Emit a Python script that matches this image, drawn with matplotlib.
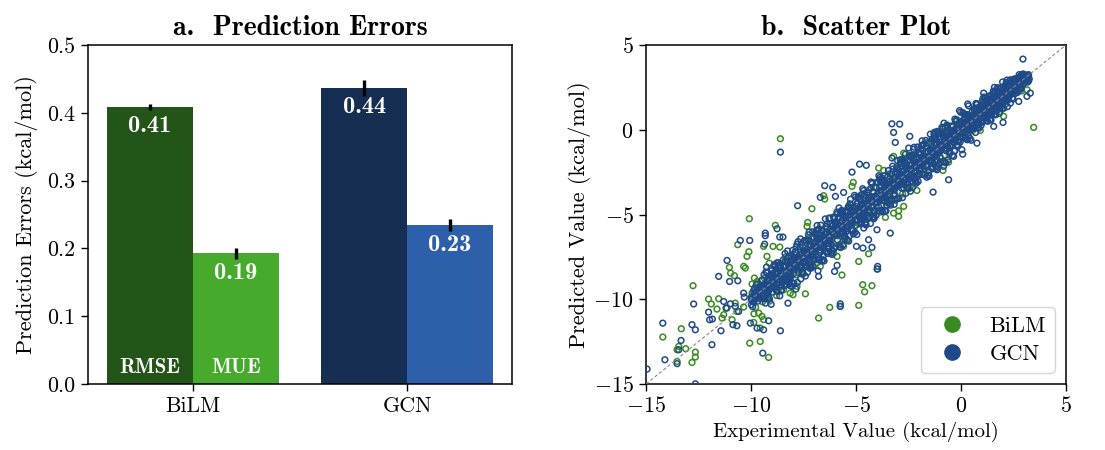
import matplotlib
matplotlib.use("Agg")
import matplotlib.pyplot as plt
from matplotlib.lines import Line2D
import numpy as np

plt.rcParams['mathtext.fontset'] = 'cm'
plt.rcParams['font.family'] = ['cmr10', 'DejaVu Sans']
plt.rcParams['axes.formatter.use_mathtext'] = True
plt.rcParams['axes.unicode_minus'] = True

# ---------------- data: panel a ----------------
models = ["BiLM", "GCN"]
rmse = [0.409, 0.437]
rmse_err = [0.0045, 0.0115]
mue = [0.193, 0.2345]
mue_err = [0.008, 0.0085]
rmse_colors = ["#235418", "#162e52"]
mue_colors = ["#46aa2d", "#2d5fab"]

# ---------------- data: panel b (experimental, predicted) ----------------
bilm_outliers = [
    (-8.6, -0.53), (3.46, 0.14), (-10.08, -5.25), (-8.84, -5.64), (-10.63, -6.78),
    (-10.1, -7.2), (-10.19, -7.47), (-10.35, -8.06), (-10.27, -8.16), (-11.03, -8.12),
    (-10.97, -8.46), (-10.79, -8.61), (-12.76, -9.2), (-12.02, -9.99), (-11.89, -10.28),
    (-11.62, -10.58), (-13.32, -11.74), (-14.2, -12.23), (-13.44, -12.78), (-13.52, -12.98),
    (-13.11, -12.92), (-12.65, -13.12), (-12.65, -13.41), (-12.81, -13.73), (-13.52, -13.67),
    (-10.06, -12.59), (-9.56, -12.49), (-9.87, -11.37), (-9.56, -11.7), (-9.4, -11.2),
    (-9.16, -13.43), (-9.63, -10.82), (-9.48, -11.01), (-7.41, -9.68), (-8.0, -9.73),
    (-8.13, -9.64), (-7.81, -9.24), (-6.25, -10.48), (-5.75, -10.42), (-4.87, -10.36),
    (-6.78, -11.11), (-4.68, -9.14), (-4.59, -9.56), (-4.24, -9.2), (-4.87, -7.77),
    (-4.4, -7.32), (-5.67, -8.57), (-4.0, -8.22), (-7.1, -4.66), (-7.3, -5.47),
    (-6.49, -4.09), (-6.54, -3.89), (-5.13, -3.11), (-2.1, -3.58), (-2.97, -5.11),
    (-3.6, -5.17), (-3.21, -4.92), (-2.97, -4.78), (-0.86, -2.4), (-0.59, -1.91),
    (1.03, 1.81), (2.03, 0.79), (3.14, 2.36), (2.9, 3.24), (3.14, 3.15),
    (0.92, -0.04), (-0.19, 0.59), (-1.38, -0.69), (-8.95, -6.88), (-8.63, -6.92),
    (-9.4, -6.88), (-9.24, -7.47), (-9.13, -7.87), (-9.84, -8.75), (-9.71, -8.95),
    (-9.4, -9.24), (-9.95, -9.64), (-9.84, -9.83), (-11.14, -10.52), (-11.3, -10.91),
    (-11.38, -11.11), (-10.9, -11.21), (-10.67, -10.72), (-10.75, -10.23), (-11.54, -9.97),
    (-10.35, -10.46), (-7.33, -5.7), (-6.86, -6.49), (-5.9, -7.47), (-6.06, -7.28),
    (-5.59, -6.88), (-6.22, -5.9), (-7.73, -7.47), (-7.49, -7.87), (-6.7, -8.06),
    (-6.86, -7.67), (-7.65, -8.26), (-5.19, -3.34), (-3.92, -2.26), (-3.68, -2.4),
    (-2.73, -3.24), (-2.41, -3.34), (-3.68, -4.13), (-3.49, -4.33), (-2.73, -4.52),
    (-4.4, -5.21), (-4.16, -4.92), (-3.21, -1.57), (-2.73, -1.38), (-0.67, 0.29),
    (0.29, 0.88), (1.24, 1.18), (1.56, 1.97), (1.87, 1.08),
]

bilm_core = [
    (-9.95, -9.10), (-9.78, -10.48), (-9.61, -9.31), (-9.86, -10.86), (-9.69, -9.09), (-9.54, -9.94),
    (-9.45, -10.15), (-9.28, -8.98), (-9.11, -10.11), (-9.36, -8.76), (-9.19, -9.59), (-9.04, -8.19),
    (-8.95, -8.65), (-8.78, -9.78), (-8.61, -8.01), (-8.86, -9.26), (-8.69, -7.84), (-8.54, -9.24),
    (-8.45, -9.45), (-8.28, -7.68), (-8.11, -8.51), (-8.36, -7.51), (-8.19, -8.89), (-8.04, -7.74),
    (-7.95, -7.35), (-7.78, -8.18), (-7.61, -6.76), (-7.86, -8.56), (-7.69, -7.39), (-7.54, -8.54),
    (-7.45, -7.85), (-7.28, -6.43), (-7.11, -7.81), (-7.36, -7.06), (-7.19, -8.19), (-7.04, -6.44),
    (-6.95, -6.10), (-6.78, -7.48), (-6.61, -6.31), (-6.86, -7.86), (-6.69, -6.09), (-6.54, -6.94),
    (-6.45, -7.15), (-6.28, -5.98), (-6.11, -7.11), (-6.36, -5.76), (-6.19, -6.59), (-6.04, -5.19),
    (-5.95, -5.65), (-5.78, -6.78), (-5.61, -5.01), (-5.86, -6.26), (-5.69, -4.84), (-5.54, -6.24),
    (-5.45, -6.45), (-5.28, -4.68), (-5.11, -5.51), (-5.36, -4.51), (-5.19, -5.89), (-5.04, -4.74),
    (-4.95, -4.35), (-4.78, -5.18), (-4.61, -3.76), (-4.86, -5.56), (-4.69, -4.39), (-4.54, -5.54),
    (-4.45, -4.85), (-4.28, -3.43), (-4.11, -4.81), (-4.36, -4.06), (-4.19, -5.19), (-4.04, -3.44),
    (-3.95, -3.10), (-3.78, -4.48), (-3.61, -3.31), (-3.86, -4.86), (-3.69, -3.09), (-3.54, -3.94),
    (-3.45, -4.15), (-3.28, -2.98), (-3.11, -4.11), (-3.36, -2.76), (-3.19, -3.59), (-3.04, -2.19),
    (-2.95, -2.65), (-2.78, -3.78), (-2.61, -2.01), (-2.86, -3.26), (-2.69, -1.84), (-2.54, -3.24),
    (-2.45, -3.45), (-2.28, -1.68), (-2.11, -2.51), (-2.36, -1.51), (-2.19, -2.89), (-2.04, -1.74),
    (-1.95, -1.35), (-1.78, -2.18), (-1.61, -0.76), (-1.86, -2.56), (-1.69, -1.39), (-1.54, -2.54),
    (-1.45, -1.85), (-1.28, -0.43), (-1.11, -1.81), (-1.36, -1.06), (-1.19, -2.19), (-1.04, -0.44),
    (-0.95, -0.10), (-0.78, -1.48), (-0.61, -0.31), (-0.86, -1.86), (-0.69, -0.09), (-0.54, -0.94),
    (-0.45, -0.87), (-0.28, -0.10), (-0.11, -0.71), (-0.36, 0.00), (-0.19, -0.43), (-0.04, 0.47),
    (0.05, 0.23), (0.22, -0.38), (0.39, 0.75), (0.14, -0.10), (0.31, 0.82), (0.46, 0.04),
    (0.55, -0.05), (0.72, 1.08), (0.89, 0.65), (0.64, 1.15), (0.81, 0.39), (0.96, 1.14),
    (1.05, 1.41), (1.22, 0.98), (1.39, 1.90), (1.14, 0.72), (1.31, 1.49), (1.46, 0.86),
    (1.55, 1.31), (1.72, 2.23), (1.89, 1.47), (1.64, 1.82), (1.81, 1.21), (1.96, 2.32),
    (2.05, 2.56), (2.22, 1.80), (2.39, 2.57), (2.14, 1.54), (2.31, 2.67), (2.46, 2.22),
    (2.55, 2.13), (2.72, 2.90), (2.89, 2.29), (2.64, 3.00), (2.81, 2.57), (2.96, 3.30),
    (3.05, 3.25), (3.15, 2.95), (3.20, 3.10),
]

gcn_outliers = [
    (-8.6, -1.32), (-3.29, 0.35), (-2.92, 0.33), (-3.21, -0.16), (-3.13, -0.75),
    (-2.44, -0.39), (2.95, 4.17), (1.59, 2.5), (1.08, 2.16), (3.14, 1.97),
    (2.0, 0.43), (0.08, -1.44), (-0.59, -2.95), (-1.33, -3.68), (-1.14, -0.1),
    (-0.3, -1.24), (-5.19, -2.5), (-4.83, -2.03), (-4.51, -2.1), (-6.49, -3.3),
    (-6.11, -3.4), (-6.7, -3.99), (-7.78, -4.48), (-5.59, -3.7), (-5.98, -3.93),
    (-8.76, -5.84), (-8.63, -6.33), (-8.48, -6.33), (-9.32, -6.1), (-9.32, -6.25),
    (-10.06, -6.53), (-10.51, -6.53), (-9.35, -6.75), (-11.14, -7.71), (-11.54, -8.65),
    (-11.02, -8.95), (-10.63, -8.91), (-10.35, -9.64), (-10.32, -9.87), (-12.73, -10.28),
    (-12.02, -10.76), (-11.97, -11.21), (-11.84, -11.17), (-11.43, -11.86), (-11.86, -12.68),
    (-14.2, -11.41), (-12.81, -11.5), (-12.65, -11.8), (-13.33, -12.43), (-13.44, -12.98),
    (-14.1, -13.57), (-13.52, -13.8), (-14.95, -14.12), (-12.65, -14.99), (-10.03, -11.41),
    (-9.71, -11.7), (-9.4, -11.8), (-9.16, -11.27), (-8.6, -11.86), (-9.44, -13.18),
    (-8.24, -10.23), (-5.75, -10.27), (-5.75, -10.42), (-3.97, -8.06), (-3.97, -8.22),
    (-4.4, -6.49), (-4.67, -6.98), (-4.24, -6.94), (-4.98, -6.88), (-5.9, -8.0),
    (-6.02, -8.36), (-6.81, -8.32), (-6.78, -8.65), (-7.33, -8.06), (-8.13, -8.85),
    (-8.05, -9.24), (-7.86, -9.4), (-10.75, -10.42), (-10.59, -10.72), (-10.86, -11.5),
    (-10.67, -11.56), (-11.3, -10.13), (-11.19, -10.52), (-10.98, -10.27), (-3.29, -1.67),
    (-2.89, -1.77), (-2.49, -1.08), (-1.14, -1.77), (-0.83, -2.16), (0.29, -0.59),
    (0.76, -0.79), (1.56, 0.2), (2.35, 1.57), (2.75, 1.67), (3.3, 2.16),
    (-4.0, -5.9), (-3.37, -6.1), (-7.81, -7.67),
]

gcn_fringe = [
    (-9.38, -8.55), (-9.13, -9.95), (-9.26, -8.10), (-9.04, -10.30),
    (-8.88, -7.95), (-8.63, -9.80), (-8.76, -7.85), (-8.54, -9.45),
    (-8.38, -7.30), (-8.13, -9.20), (-8.26, -7.15), (-8.04, -9.05),
    (-7.88, -7.20), (-7.63, -8.80), (-7.76, -6.60), (-7.54, -8.45),
    (-7.38, -6.55), (-7.13, -8.15), (-7.26, -6.20), (-7.04, -8.05),
    (-6.88, -5.95), (-6.63, -7.75), (-6.76, -5.85), (-6.54, -7.40),
    (-6.38, -5.55), (-6.13, -7.15), (-6.26, -5.20), (-6.04, -7.00),
    (-5.88, -4.95), (-5.63, -6.80), (-5.76, -4.85), (-5.54, -6.45),
    (-5.38, -4.60), (-5.13, -6.15), (-5.26, -4.10), (-5.04, -6.05),
    (-4.88, -3.95), (-4.63, -5.80), (-4.76, -3.85), (-4.54, -5.45),
    (-4.38, -3.55), (-4.13, -5.15), (-4.26, -3.10), (-4.04, -5.05),
    (-3.88, -2.95), (-3.63, -4.80), (-3.76, -2.85), (-3.54, -4.45),
    (-3.38, -2.60), (-3.13, -4.15), (-3.26, -2.15), (-3.04, -4.05),
    (-2.88, -1.95), (-2.63, -3.75), (-2.76, -1.85), (-2.54, -3.45),
    (-2.38, -1.55), (-2.13, -3.15), (-2.26, -1.15), (-2.04, -3.05),
    (-1.88, -0.95), (-1.63, -2.80), (-1.76, -0.85), (-1.54, -2.40),
    (-1.38, -0.55), (-1.13, -2.15), (-1.26, -0.15), (-1.04, -2.05),
    (-0.88, 0.05), (-0.63, -1.80), (-0.76, 0.15), (-0.54, -1.40),
    (-0.38, 0.19), (-0.13, -0.67), (-0.26, 0.49), (-0.04, -0.73),
    (0.12, 0.60), (0.37, -0.41), (0.24, 0.87), (0.46, 0.01),
    (0.62, 1.19), (0.87, 0.33), (0.74, 1.49), (0.96, 0.27),
    (1.12, 1.60), (1.37, 0.59), (1.24, 1.87), (1.46, 1.01),
    (1.62, 2.19), (1.87, 1.33), (1.74, 2.49), (1.96, 1.27),
]

gcn_band_outer = [
    (-9.46, -8.87), (-9.35, -9.97), (-9.23, -8.44), (-9.14, -9.97), (-9.02, -8.33),
    (-9.41, -9.94), (-9.29, -8.39), (-9.18, -9.89), (-9.07, -8.56), (-9.31, -10.23),
    (-8.96, -9.58), (-8.85, -8.06), (-8.73, -9.56), (-8.64, -7.95), (-8.52, -9.05),
    (-8.91, -8.01), (-8.79, -9.50), (-8.68, -8.17), (-8.57, -9.49), (-8.81, -8.22),
    (-8.46, -7.67), (-8.35, -9.18), (-8.23, -7.54), (-8.14, -8.67), (-8.02, -7.12),
    (-8.41, -9.12), (-8.29, -7.78), (-8.18, -9.10), (-8.07, -7.48), (-8.31, -8.93),
    (-7.96, -9.06), (-7.85, -6.93), (-7.73, -8.43), (-7.64, -6.44), (-7.52, -8.47),
    (-7.91, -7.23), (-7.79, -9.01), (-7.68, -6.90), (-7.57, -8.39), (-7.81, -6.76),
    (-7.46, -6.54), (-7.35, -8.05), (-7.23, -6.03), (-7.14, -8.09), (-7.02, -6.34),
    (-7.41, -8.63), (-7.29, -6.51), (-7.18, -8.00), (-7.07, -6.02), (-7.31, -8.41),
    (-6.96, -7.66), (-6.85, -5.65), (-6.73, -7.68), (-6.64, -5.96), (-6.52, -7.74),
    (-6.91, -6.13), (-6.79, -7.61), (-6.68, -5.63), (-6.57, -7.67), (-6.81, -5.89),
    (-6.46, -5.26), (-6.35, -7.30), (-6.23, -5.55), (-6.14, -7.36), (-6.02, -5.24),
    (-6.41, -7.23), (-6.29, -5.24), (-6.18, -7.28), (-6.07, -5.15), (-6.31, -7.01),
    (-5.96, -6.91), (-5.85, -5.17), (-5.73, -6.95), (-5.64, -4.86), (-5.52, -6.34),
    (-5.91, -4.86), (-5.79, -6.89), (-5.68, -4.76), (-5.57, -6.27), (-5.81, -4.61),
    (-5.46, -4.78), (-5.35, -6.57), (-5.23, -4.45), (-5.14, -5.96), (-5.02, -3.97),
    (-5.41, -6.51), (-5.29, -4.37), (-5.18, -5.88), (-5.07, -3.87), (-5.31, -6.26),
    (-4.96, -6.18), (-4.85, -4.07), (-4.73, -5.55), (-4.64, -3.59), (-4.52, -5.62),
    (-4.91, -3.99), (-4.79, -5.49), (-4.68, -3.48), (-4.57, -5.52), (-4.81, -4.13),
    (-4.46, -3.68), (-4.35, -5.17), (-4.23, -3.18), (-4.14, -5.24), (-4.02, -3.10),
    (-4.41, -5.11), (-4.29, -3.09), (-4.18, -5.13), (-4.07, -3.39), (-4.31, -5.53),
    (-3.96, -4.78), (-3.85, -2.80), (-3.73, -4.83), (-3.64, -2.72), (-3.52, -4.22),
    (-3.91, -2.71), (-3.79, -4.74), (-3.68, -3.00), (-3.57, -4.79), (-3.81, -3.03),
    (-3.46, -2.41), (-3.35, -4.45), (-3.23, -2.31), (-3.14, -3.84), (-3.02, -1.82),
    (-3.41, -4.36), (-3.29, -2.61), (-3.18, -4.40), (-3.07, -2.29), (-3.31, -4.13),
    (-2.96, -4.06), (-2.85, -1.93), (-2.73, -3.43), (-2.64, -1.44), (-2.52, -3.47),
    (-2.91, -2.23), (-2.79, -4.01), (-2.68, -1.90), (-2.57, -3.39), (-2.81, -1.76),
    (-2.46, -1.54), (-2.35, -3.05), (-2.23, -1.03), (-2.14, -3.09), (-2.02, -1.34),
    (-2.41, -3.63), (-2.29, -1.51), (-2.18, -3.00), (-2.07, -1.02), (-2.31, -3.41),
    (-1.96, -2.66), (-1.85, -0.65), (-1.73, -2.68), (-1.64, -0.96), (-1.52, -2.74),
    (-1.91, -1.13), (-1.79, -2.61), (-1.68, -0.63), (-1.57, -2.67), (-1.81, -0.89),
    (-1.46, -0.26), (-1.35, -2.30), (-1.23, -0.55), (-1.14, -2.36), (-1.02, -0.24),
    (-1.41, -2.23), (-1.29, -0.24), (-1.18, -2.28), (-1.07, -0.15), (-1.31, -2.01),
    (-0.96, -1.91), (-0.85, -0.17), (-0.73, -1.95), (-0.64, 0.14), (-0.52, -1.34),
    (-0.91, 0.14), (-0.79, -1.89), (-0.68, 0.24), (-0.57, -1.27), (-0.81, 0.39),
    (-0.46, 0.22), (-0.35, -1.57), (-0.23, 0.55), (-0.14, -0.96), (-0.02, 1.03),
    (-0.41, -1.51), (-0.29, 0.63), (-0.18, -0.88), (-0.07, 1.13), (-0.31, -1.26),
    (0.04, -1.18), (0.15, 0.93), (0.27, -0.55), (0.36, 1.41), (0.48, -0.62),
    (0.09, 1.01), (0.21, -0.49), (0.32, 1.52), (0.43, -0.52), (0.19, 0.87),
    (0.54, 1.09), (0.65, 0.08), (0.77, 1.51), (0.86, 0.09), (0.98, 1.62),
    (0.59, 0.10), (0.71, 1.55), (0.82, 0.15), (0.93, 1.41), (0.69, -0.16),
    (1.04, 0.47), (1.15, 1.89), (1.27, 0.50), (1.36, 2.00), (1.48, 0.99),
    (1.09, 1.93), (1.21, 0.54), (1.32, 1.80), (1.43, 0.58), (1.19, 1.74),
    (1.54, 2.28), (1.65, 0.88), (1.77, 2.41), (1.86, 1.37), (1.98, 2.82),
    (1.59, 0.92), (1.71, 2.19), (1.82, 0.97), (1.93, 2.48), (1.69, 1.12),
    (2.04, 1.27), (2.15, 2.79), (2.27, 1.78), (2.36, 2.95), (2.48, 1.81),
    (2.09, 2.57), (2.21, 1.36), (2.32, 2.87), (2.43, 1.86), (2.19, 2.93),
    (2.54, 3.00), (2.65, 2.35), (2.77, 3.25), (2.86, 2.40), (2.98, 3.20),
    (2.59, 2.15), (2.71, 3.05), (2.82, 2.40), (2.93, 3.25), (2.69, 2.20),
]

gcn_core = [
    (-9.97, -9.85), (-9.59, -9.94), (-9.83, -9.35), (-9.71, -9.79), (-9.92, -10.44), (-9.64, -9.37),
    (-9.78, -9.99), (-9.53, -9.48), (-9.88, -9.50), (-9.67, -10.11), (-9.99, -10.01), (-9.75, -9.14),
    (-9.47, -9.82), (-9.09, -8.61), (-9.33, -9.41), (-9.21, -9.73), (-9.42, -9.15), (-9.14, -9.35),
    (-9.28, -9.23), (-9.03, -8.65), (-9.38, -9.82), (-9.17, -9.19), (-9.49, -8.88), (-9.25, -9.13),
    (-8.97, -8.49), (-8.59, -8.67), (-8.83, -9.35), (-8.71, -8.44), (-8.92, -9.13), (-8.64, -8.59),
    (-8.78, -8.40), (-8.53, -8.97), (-8.88, -8.90), (-8.67, -8.06), (-8.99, -8.87), (-8.75, -9.10),
    (-8.47, -8.55), (-8.09, -8.61), (-8.33, -8.06), (-8.21, -8.42), (-8.42, -8.37), (-8.14, -7.76),
    (-8.28, -8.72), (-8.03, -8.05), (-8.38, -7.77), (-8.17, -8.05), (-8.49, -8.84), (-8.25, -7.77),
    (-7.97, -8.49), (-7.59, -7.32), (-7.83, -8.04), (-7.71, -7.66), (-7.92, -7.54), (-7.64, -8.08),
    (-7.78, -7.80), (-7.53, -6.92), (-7.88, -7.76), (-7.67, -8.02), (-7.99, -7.51), (-7.75, -7.83),
    (-7.47, -7.15), (-7.09, -7.34), (-7.33, -7.27), (-7.21, -6.75), (-7.42, -7.95), (-7.14, -7.16),
    (-7.28, -6.55), (-7.03, -6.89), (-7.38, -7.80), (-7.17, -6.59), (-7.49, -7.59), (-7.25, -7.87),
    (-6.97, -7.22), (-6.59, -6.53), (-6.83, -6.37), (-6.71, -7.24), (-6.92, -6.94), (-6.64, -5.91),
    (-6.78, -6.64), (-6.53, -6.95), (-6.88, -6.30), (-6.67, -6.77), (-6.99, -7.61), (-6.75, -6.43),
    (-6.47, -6.41), (-6.09, -5.63), (-6.33, -6.86), (-6.21, -6.23), (-6.42, -5.69), (-6.14, -6.00),
    (-6.28, -6.70), (-6.03, -5.45), (-6.38, -6.48), (-6.17, -6.79), (-6.49, -6.17), (-6.25, -6.50),
    (-5.97, -5.51), (-5.59, -6.12), (-5.83, -5.85), (-5.71, -4.98), (-5.92, -5.78), (-5.64, -6.06),
    (-5.78, -5.20), (-5.53, -5.63), (-5.88, -6.50), (-5.67, -5.35), (-5.99, -6.24), (-5.75, -5.69),
    (-5.47, -6.00), (-5.09, -5.11), (-5.33, -4.60), (-5.21, -5.07), (-5.42, -5.84), (-5.14, -4.56),
    (-5.28, -5.38), (-5.03, -5.65), (-5.38, -5.06), (-5.17, -5.42), (-5.49, -5.43), (-5.25, -4.79),
    (-4.97, -4.99), (-4.59, -3.86), (-4.83, -4.69), (-4.71, -5.13), (-4.92, -4.34), (-4.64, -4.74),
    (-4.78, -5.40), (-4.53, -4.21), (-4.88, -5.13), (-4.67, -4.61), (-4.99, -4.53), (-4.75, -5.28),
    (-4.47, -3.74), (-4.09, -3.95), (-4.33, -4.75), (-4.21, -3.63), (-4.42, -4.52), (-4.14, -4.76),
    (-4.28, -3.96), (-4.03, -4.28), (-4.38, -4.32), (-4.17, -3.71), (-4.49, -5.02), (-4.25, -4.27),
    (-3.97, -3.83), (-3.59, -4.01), (-3.83, -3.25), (-3.71, -3.81), (-3.92, -4.54), (-3.64, -3.32),
    (-3.78, -4.03), (-3.53, -3.47), (-3.88, -3.42), (-3.67, -4.20), (-3.99, -4.01), (-3.75, -3.02),
    (-3.47, -3.89), (-3.09, -2.51), (-3.33, -3.43), (-3.21, -3.83), (-3.42, -3.10), (-3.14, -3.39),
    (-3.28, -3.22), (-3.03, -2.57), (-3.38, -3.91), (-3.17, -3.19), (-3.49, -2.76), (-3.25, -3.11),
    (-2.97, -2.39), (-2.59, -2.69), (-2.83, -3.45), (-2.71, -2.39), (-2.92, -3.17), (-2.64, -2.58),
    (-2.78, -2.32), (-2.53, -3.06), (-2.88, -2.90), (-2.67, -1.94), (-2.99, -2.85), (-2.75, -3.17),
    (-2.47, -2.57), (-2.09, -2.71), (-2.33, -2.01), (-2.21, -2.46), (-2.42, -2.36), (-2.14, -1.68),
    (-2.28, -2.81), (-2.03, -2.05), (-2.38, -1.65), (-2.17, -2.03), (-2.49, -2.91), (-2.25, -1.67),
    (-1.97, -2.59), (-1.59, -1.27), (-1.83, -2.08), (-1.71, -1.65), (-1.92, -1.46), (-1.64, -2.17),
    (-1.78, -1.80), (-1.53, -0.80), (-1.88, -1.74), (-1.67, -2.09), (-1.99, -1.41), (-1.75, -1.85),
    (-1.47, -1.15), (-1.09, -1.34), (-1.33, -1.27), (-1.21, -0.75), (-1.42, -1.95), (-1.14, -1.16),
    (-1.28, -0.55), (-1.03, -0.89), (-1.38, -1.80), (-1.17, -0.59), (-1.49, -1.59), (-1.25, -1.87),
    (-0.97, -1.22), (-0.59, -0.53), (-0.83, -0.37), (-0.71, -1.24), (-0.92, -0.94), (-0.64, 0.09),
    (-0.78, -0.64), (-0.53, -0.95), (-0.88, -0.30), (-0.67, -0.77), (-0.99, -1.61), (-0.75, -0.43),
    (-0.47, -0.42), (-0.09, 0.29), (-0.33, -0.77), (-0.21, -0.23), (-0.42, 0.19), (-0.14, -0.02),
    (-0.28, -0.63), (-0.03, 0.45), (-0.38, -0.46), (-0.17, -0.69), (-0.49, -0.22), (-0.25, -0.46),
    (0.03, 0.41), (0.41, -0.03), (0.17, 0.15), (0.29, 0.90), (0.08, 0.20), (0.36, 0.01),
    (0.22, 0.70), (0.47, 0.39), (0.12, -0.40), (0.33, 0.60), (0.01, -0.20), (0.25, 0.30),
    (0.53, 0.09), (0.91, 0.89), (0.67, 1.28), (0.79, 0.91), (0.58, 0.23), (0.86, 1.34),
    (0.72, 0.64), (0.97, 0.45), (0.62, 0.89), (0.83, 0.62), (0.51, 0.56), (0.75, 1.13),
    (1.03, 1.01), (1.41, 2.02), (1.17, 1.29), (1.29, 0.94), (1.08, 1.56), (1.36, 1.28),
    (1.22, 0.70), (1.47, 1.74), (1.12, 0.91), (1.33, 1.38), (1.01, 1.39), (1.25, 0.81),
    (1.53, 2.14), (1.91, 2.03), (1.67, 1.32), (1.79, 2.27), (1.58, 1.50), (1.86, 1.34),
    (1.72, 1.99), (1.97, 1.76), (1.62, 1.67), (1.83, 2.21), (1.51, 1.07), (1.75, 1.73),
    (2.03, 2.11), (2.41, 2.16), (2.17, 2.50), (2.29, 2.23), (2.08, 1.72), (2.36, 2.55),
    (2.22, 2.07), (2.47, 2.51), (2.12, 2.39), (2.33, 2.02), (2.01, 2.00), (2.25, 2.65),
    (2.53, 2.28), (2.91, 3.24), (2.67, 2.61), (2.79, 2.43), (2.58, 2.77), (2.86, 2.71),
    (2.72, 2.76), (2.97, 3.24), (2.62, 2.31), (2.83, 2.82), (2.51, 2.91), (2.75, 2.83),
    (3.03, 3.20), (3.17, 2.81), (3.08, 2.93), (3.22, 3.25), (3.12, 3.11), (3.01, 3.09), (3.25, 3.00),
]

gcn_core_inner = [
    (-9.94, -9.92), (-9.81, -9.60), (-9.69, -9.86), (-9.56, -9.23), (-9.87, -10.16), (-9.74, -9.63),
    (-9.62, -9.69), (-9.51, -9.24), (-9.91, -10.14), (-9.78, -9.62), (-9.65, -9.77), (-9.98, -10.32),
    (-9.44, -9.23), (-9.31, -9.48), (-9.19, -8.86), (-9.06, -9.35), (-9.37, -9.26), (-9.24, -9.31),
    (-9.12, -8.85), (-9.01, -9.24), (-9.41, -9.25), (-9.28, -9.40), (-9.15, -9.49), (-9.48, -9.46),
    (-8.94, -9.11), (-8.81, -8.48), (-8.69, -8.98), (-8.56, -8.45), (-8.87, -8.94), (-8.74, -8.47),
    (-8.62, -8.85), (-8.51, -8.35), (-8.91, -9.03), (-8.78, -9.12), (-8.65, -8.63), (-8.98, -8.77),
    (-8.44, -8.11), (-8.31, -8.60), (-8.19, -8.08), (-8.06, -8.13), (-8.37, -8.10), (-8.24, -8.47),
    (-8.12, -7.96), (-8.01, -8.13), (-8.41, -8.75), (-8.28, -8.26), (-8.15, -7.94), (-8.48, -8.65),
    (-7.94, -8.23), (-7.81, -7.70), (-7.69, -7.76), (-7.56, -7.29), (-7.87, -8.10), (-7.74, -7.58),
    (-7.62, -7.74), (-7.51, -7.85), (-7.91, -7.89), (-7.78, -7.57), (-7.65, -7.82), (-7.98, -7.65),
    (-7.44, -7.33), (-7.31, -7.38), (-7.19, -6.92), (-7.06, -7.29), (-7.37, -7.21), (-7.24, -7.36),
    (-7.12, -7.46), (-7.01, -6.99), (-7.41, -7.20), (-7.28, -7.45), (-7.15, -6.82), (-7.48, -7.77),
    (-6.94, -7.01), (-6.81, -6.54), (-6.69, -6.92), (-6.56, -6.40), (-6.87, -6.99), (-6.74, -7.08),
    (-6.62, -6.60), (-6.51, -6.30), (-6.91, -7.08), (-6.78, -6.45), (-6.65, -6.94), (-6.98, -6.87),
    (-6.44, -6.17), (-6.31, -6.54), (-6.19, -6.03), (-6.06, -6.18), (-6.37, -6.71), (-6.24, -6.22),
    (-6.12, -5.91), (-6.01, -6.18), (-6.41, -6.08), (-6.28, -6.57), (-6.15, -6.04), (-6.48, -6.55),
    (-5.94, -6.17), (-5.81, -5.65), (-5.69, -5.81), (-5.56, -5.90), (-5.87, -5.85), (-5.74, -5.53),
    (-5.62, -5.79), (-5.51, -5.18), (-5.91, -6.20), (-5.78, -5.67), (-5.65, -5.72), (-5.98, -5.71),
    (-5.44, -5.28), (-5.31, -5.43), (-5.19, -5.53), (-5.06, -5.04), (-5.37, -5.16), (-5.24, -5.41),
    (-5.12, -4.79), (-5.01, -5.30), (-5.41, -5.30), (-5.28, -5.35), (-5.15, -4.88), (-5.48, -5.71),
    (-4.94, -5.06), (-4.81, -5.15), (-4.69, -4.67), (-4.56, -4.35), (-4.87, -5.04), (-4.74, -4.41),
    (-4.62, -4.91), (-4.51, -4.40), (-4.91, -4.98), (-4.78, -4.51), (-4.65, -4.88), (-4.98, -4.82),
    (-4.44, -4.78), (-4.31, -4.29), (-4.19, -3.98), (-4.06, -4.23), (-4.37, -4.04), (-4.24, -4.53),
    (-4.12, -4.01), (-4.01, -4.08), (-4.41, -4.14), (-4.28, -4.51), (-4.15, -3.99), (-4.48, -4.60),
    (-3.94, -3.92), (-3.81, -3.60), (-3.69, -3.86), (-3.56, -3.23), (-3.87, -4.16), (-3.74, -3.63),
    (-3.62, -3.69), (-3.51, -3.24), (-3.91, -4.14), (-3.78, -3.62), (-3.65, -3.77), (-3.98, -4.32),
    (-3.44, -3.23), (-3.31, -3.48), (-3.19, -2.86), (-3.06, -3.35), (-3.37, -3.26), (-3.24, -3.31),
    (-3.12, -2.85), (-3.01, -3.24), (-3.41, -3.25), (-3.28, -3.40), (-3.15, -3.49), (-3.48, -3.46),
    (-2.94, -3.11), (-2.81, -2.48), (-2.69, -2.98), (-2.56, -2.45), (-2.87, -2.94), (-2.74, -2.47),
    (-2.62, -2.85), (-2.51, -2.35), (-2.91, -3.03), (-2.78, -3.12), (-2.65, -2.63), (-2.98, -2.77),
    (-2.44, -2.11), (-2.31, -2.60), (-2.19, -2.08), (-2.06, -2.13), (-2.37, -2.10), (-2.24, -2.47),
    (-2.12, -1.96), (-2.01, -2.13), (-2.41, -2.75), (-2.28, -2.26), (-2.15, -1.94), (-2.48, -2.65),
    (-1.94, -2.23), (-1.81, -1.70), (-1.69, -1.76), (-1.56, -1.29), (-1.87, -2.10), (-1.74, -1.58),
    (-1.62, -1.74), (-1.51, -1.85), (-1.91, -1.89), (-1.78, -1.57), (-1.65, -1.82), (-1.98, -1.65),
    (-1.44, -1.33), (-1.31, -1.38), (-1.19, -0.92), (-1.06, -1.29), (-1.37, -1.21), (-1.24, -1.36),
    (-1.12, -1.46), (-1.01, -0.99), (-1.41, -1.20), (-1.28, -1.45), (-1.15, -0.82), (-1.48, -1.77),
    (-0.94, -1.01), (-0.81, -0.54), (-0.69, -0.92), (-0.56, -0.40), (-0.87, -0.99), (-0.74, -1.08),
    (-0.62, -0.60), (-0.51, -0.30), (-0.91, -1.08), (-0.78, -0.45), (-0.65, -0.94), (-0.98, -0.87),
    (-0.44, -0.17), (-0.31, -0.54), (-0.19, -0.03), (-0.06, -0.18), (-0.37, -0.71), (-0.24, -0.22),
    (-0.12, 0.09), (-0.01, -0.18), (-0.41, -0.08), (-0.28, -0.57), (-0.15, -0.04), (-0.48, -0.55),
    (0.06, -0.17), (0.19, 0.35), (0.31, 0.19), (0.44, 0.10), (0.13, 0.15), (0.26, 0.47),
    (0.38, 0.21), (0.49, 0.82), (0.09, -0.20), (0.22, 0.33), (0.35, 0.28), (0.02, 0.29),
    (0.56, 0.72), (0.69, 0.57), (0.81, 0.47), (0.94, 0.96), (0.63, 0.84), (0.76, 0.59),
    (0.88, 1.21), (0.99, 0.70), (0.59, 0.70), (0.72, 0.65), (0.85, 1.12), (0.52, 0.29),
    (1.06, 0.94), (1.19, 0.85), (1.31, 1.33), (1.44, 1.65), (1.13, 0.96), (1.26, 1.59),
    (1.38, 1.09), (1.49, 1.60), (1.09, 1.02), (1.22, 1.49), (1.35, 1.12), (1.02, 1.18),
    (1.56, 1.22), (1.69, 1.71), (1.81, 2.02), (1.94, 1.77), (1.63, 1.96), (1.76, 1.47),
    (1.88, 1.99), (1.99, 1.92), (1.59, 1.86), (1.72, 1.49), (1.85, 2.01), (1.52, 1.40),
    (2.06, 2.08), (2.19, 2.40), (2.31, 2.14), (2.44, 2.77), (2.13, 1.84), (2.26, 2.37),
    (2.38, 2.31), (2.49, 2.76), (2.09, 1.86), (2.22, 2.38), (2.35, 2.23), (2.02, 1.68),
    (2.56, 2.77), (2.69, 2.52), (2.81, 3.14), (2.94, 2.65), (2.63, 2.74), (2.76, 2.69),
    (2.88, 3.15), (2.99, 2.76), (2.59, 2.75), (2.72, 2.60), (2.85, 2.51), (2.52, 2.54),
    (3.06, 2.89), (3.19, 3.20), (3.13, 3.06), (3.09, 2.97), (3.22, 2.88), (3.02, 3.23),
]

series_names = ["BiLM", "GCN"]
scatter_colors = ["#3a8a24", "#1f4a8a"]

# ---------------- figure ----------------
fig = plt.figure(figsize=(11.05, 4.5), dpi=100)
ax1 = fig.add_axes([88 / 1105, 66 / 450, 424 / 1105, 339 / 450])
ax2 = fig.add_axes([646 / 1105, 66 / 450, 420 / 1105, 339 / 450])

TICK_FS = 15.8
YLAB_FS = 16
XLAB_FS = 15
TFS = 20
BOLD = "cmb10"

# panel a
x = np.arange(len(models))
w = 0.4
ax1.bar(x - w / 2, rmse, w, color=rmse_colors, edgecolor="none", zorder=2)
ax1.bar(x + w / 2, mue, w, color=mue_colors, edgecolor="none", zorder=2)
ax1.errorbar(x - w / 2, rmse, yerr=rmse_err, fmt="none", ecolor="black", elinewidth=2.4, capsize=0, zorder=3)
ax1.errorbar(x + w / 2, mue, yerr=mue_err, fmt="none", ecolor="black", elinewidth=2.4, capsize=0, zorder=3)
for xs, vals in ((x - w / 2, rmse), (x + w / 2, mue)):
    for xi, v in zip(xs, vals):
        ax1.text(xi, v - 0.029, "%.2f" % v, ha="center", va="center",
                 color="white", fontsize=17.5, family=BOLD, zorder=4)
ax1.text(x[0] - w / 2, 0.024, "RMSE", ha="center", va="center", color="white",
         fontsize=15, family=BOLD, zorder=4)
ax1.text(x[0] + w / 2, 0.024, "MUE", ha="center", va="center", color="white",
         fontsize=15, family=BOLD, zorder=4)
ax1.set_ylim(0, 0.5)
ax1.set_yticks([0.0, 0.1, 0.2, 0.3, 0.4, 0.5])
ax1.set_yticklabels(["%.1f" % t for t in [0.0, 0.1, 0.2, 0.3, 0.4, 0.5]])
ax1.set_xticks(x)
ax1.set_xticklabels(models)
ax1.set_ylabel("Prediction Errors (kcal/mol)", fontsize=YLAB_FS, labelpad=7)
ax1.set_title("a.  Prediction Errors", fontsize=TFS, family=BOLD, pad=7)

# panel b
ax2.plot([-15, 5], [-15, 5], linestyle=(0, (3, 2)), color="#8a8a8a", linewidth=0.8, zorder=5)
for pts, col in ((bilm_outliers + bilm_core, scatter_colors[0]),
                 (gcn_outliers + gcn_fringe + gcn_band_outer + gcn_core + gcn_core_inner,
                  scatter_colors[1])):
    arr = np.array(pts)
    ax2.scatter(arr[:, 0], arr[:, 1], s=17, facecolors="none", edgecolors=col, linewidths=1.1, zorder=3)
ax2.set_xlim(-15, 5)
ax2.set_ylim(-15, 5)
ax2.set_xticks([-15, -10, -5, 0, 5])
ax2.set_yticks([-15, -10, -5, 0, 5])
ax2.set_xlabel("Experimental Value (kcal/mol)", fontsize=XLAB_FS, labelpad=4)
ax2.set_ylabel("Predicted Value (kcal/mol)", fontsize=YLAB_FS, labelpad=2)
ax2.set_title("b.  Scatter Plot", fontsize=TFS, family=BOLD, pad=7)
handles = [Line2D([], [], linestyle="none", marker="o", markersize=11, markerfacecolor=c,
                  markeredgecolor=c) for c in scatter_colors]
ax2.legend(handles, series_names, loc="lower right",
           fontsize=16, handletextpad=0.7, borderpad=0.4, labelspacing=0.4)

for ax in (ax1, ax2):
    ax.tick_params(direction="out", length=5, width=1.0, labelsize=TICK_FS, pad=4)
    for s in ax.spines.values():
        s.set_linewidth(1.1)
        s.set_color("black")

fig.savefig("out.png", dpi=100)
